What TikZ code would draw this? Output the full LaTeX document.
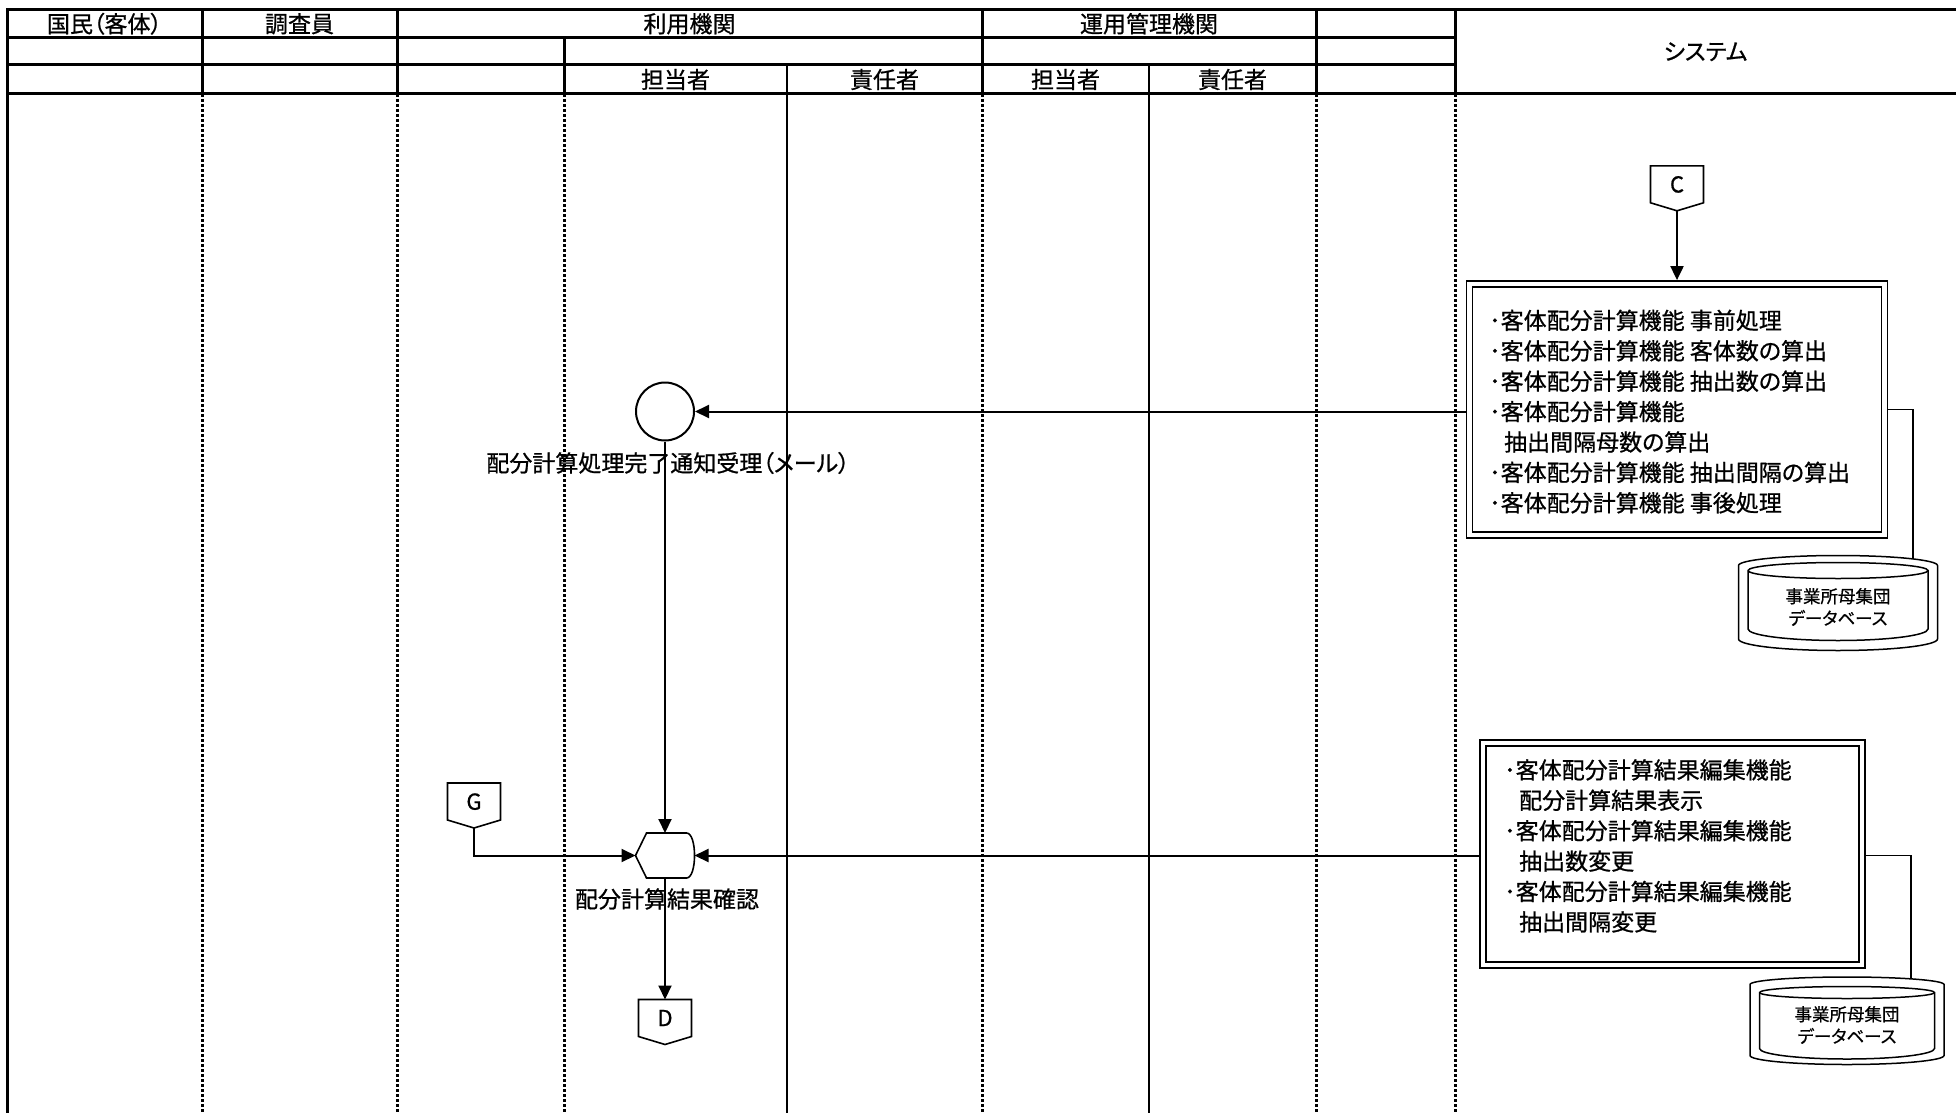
\documentclass[tikz,border=0pt]{standalone}
\usepackage{fontspec}
\setmainfont{Noto Sans CJK JP}[RawFeature=+palt,FakeBold=0.8]
\usetikzlibrary{arrows.meta,calc}
\newcommand\pentdraw[1]{\draw[connshape] (#1.north west) -- (#1.north east) -- ($(#1.south east)+(0,-8)$) -- (#1.south) -- ($(#1.south west)+(0,-8)$) -- cycle;}
\begin{document}
\begin{tikzpicture}[x=1pt,y=-1pt,
 hdr/.style={line width=3pt},
 lane/.style={line width=3pt, dash pattern=on 3pt off 2pt},
 thinlane/.style={line width=1.3pt},
 flow/.style={line width=2pt, -{Triangle[length=14pt,width=13pt]}},
 link/.style={line width=1.5pt},
 conn/.style={minimum width=53pt, minimum height=45pt, inner sep=0pt, outer sep=0pt, text depth=8pt, font=\fontsize{22}{22}\selectfont},
 connshape/.style={line width=1.6pt, line join=miter},
 proc/.style={draw, double, double distance=4.2pt, line width=1.8pt, inner sep=0pt, outer sep=3.9pt},
 boxtext/.style={anchor=north west, align=left, inner sep=0pt, font=\fontsize{23}{30.4}\selectfont},
 lbl/.style={inner sep=0pt, font=\fontsize{23}{28}\selectfont},
 htext/.style={inner sep=0pt, font=\fontsize{23}{23}\selectfont},
 dbtext/.style={align=center, inner sep=0pt, font=\fontsize{17.5}{22}\selectfont},
 dbbody/.style={inner sep=0pt, outer sep=0pt},
 dbline/.style={line width=1.5pt}
]
\useasboundingbox (0,0) rectangle (1956,1113);

% swimlanes
\foreach \x in {202,397,564,982,1316,1455} \draw[lane] (\x,94) -- (\x,1113);
\foreach \x in {787,1149} \draw[thinlane] (\x,65) -- (\x,1113);
\draw[hdr] (7.5,9.5) -- (7.5,1113);
\draw[hdr,line cap=rect] (7.5,9.5) -- (1956,9.5);
\draw[hdr] (7.5,38) -- (1455,38);
\draw[hdr] (7.5,65) -- (1455,65);
\draw[hdr,line cap=rect] (7.5,94) -- (1956,94);
\foreach \x in {202,397,982,1316,1455} \draw[hdr] (\x,9.5) -- (\x,94);
\draw[hdr] (564,38) -- (564,94);

% header texts
\node[htext] (hA) at (104.5,23.75) {国民（客体）};
\node[htext] (hB) at (299.5,23.75) {調査員};
\node[htext] (hC) at (689.5,23.75) {利用機関};
\node[htext] (hD) at (1149,23.75) {運用管理機関};
\node[htext] (hE) at (675.5,79.5) {担当者};
\node[htext] (hF) at (884.5,79.5) {責任者};
\node[htext] (hG) at (1065.5,79.5) {担当者};
\node[htext] (hH) at (1232.5,79.5) {責任者};
\node[htext] (hI) at (1705.5,51.75) {システム};

% connectors (off-page)
\node[conn] (C) at (1677,188.3) {C};
\node[conn] (G) at (474,805.5) {G};
\node[conn] (D) at (665,1022) {D};
\pentdraw{C}
\pentdraw{G}
\pentdraw{D}

% process boxes
\node[proc, minimum width=415pt, minimum height=251pt] (B1) at (1677,409.5) {};
\node[boxtext] (T1) at (1489,309.5) {･客体配分計算機能 事前処理\\
･客体配分計算機能 客体数の算出\\
･客体配分計算機能 抽出数の算出\\
･客体配分計算機能\\
\hspace*{0.65em}抽出間隔母数の算出\\
･客体配分計算機能 抽出間隔の算出\\
･客体配分計算機能 事後処理};

\node[proc, double distance=3.7pt, outer sep=3.65pt, minimum width=379pt, minimum height=222pt] (B2) at (1672.5,854) {};
\node[boxtext] (T2) at (1504,759) {･客体配分計算結果編集機能\\
\hspace*{0.65em}配分計算結果表示\\
･客体配分計算結果編集機能\\
\hspace*{0.65em}抽出数変更\\
･客体配分計算結果編集機能\\
\hspace*{0.65em}抽出間隔変更};

% event circle and display
\node[circle, draw, line width=2pt, minimum size=58pt, inner sep=0pt] (N1) at (665,411.5) {};
\node[inner sep=0pt, outer sep=0pt, minimum width=59pt, minimum height=45pt] (Disp) at (665,855.5) {};
\begin{scope}[shift={(Disp.center)}]
\draw[connshape] (-29.5,0) -- (-18.5,-22.5) -- (21.5,-22.5) .. controls (32.2,-22.5) and (32.2,22.5) .. (21.5,22.5) -- (-18.5,22.5) -- cycle;
\end{scope}

\node[lbl] (L1) at (668,463) {配分計算処理完了通知受理（メール）};
\node[lbl] (L2) at (667,899) {配分計算結果確認};

% databases
\node[dbbody, minimum width=199pt, minimum height=95pt] (DB1) at (1838,603) {};
\begin{scope}[shift={(DB1.center)}]
\draw[dbline] (-99.5,36) -- (-99.5,-37.5) arc[start angle=180,end angle=360,x radius=99.5,y radius=10] -- (99.5,36) arc[start angle=0,end angle=180,x radius=99.5,y radius=11.5];
\draw[dbline] (-90,26) -- (-90,-32.5) arc[start angle=180,end angle=360,x radius=90,y radius=8] -- (90,26) arc[start angle=0,end angle=180,x radius=90,y radius=11.5];
\draw[dbline] (-90,-32.5) arc[start angle=180,end angle=0,x radius=90,y radius=8];
\end{scope}
\node[dbtext] (DB1t) at ($(DB1.center)+(0,4)$) {事業所母集団\\データベース};
\node[dbbody, minimum width=194pt, minimum height=87pt] (DB2) at (1847,1021) {};
\begin{scope}[shift={(DB2.center)}]
\draw[dbline] (-97,34.5) -- (-97,-36.5) arc[start angle=180,end angle=360,x radius=97,y radius=7.5] -- (97,34.5) arc[start angle=0,end angle=180,x radius=97,y radius=9];
\draw[dbline] (-87.5,27.5) -- (-87.5,-28.5) arc[start angle=180,end angle=360,x radius=87.5,y radius=6] -- (87.5,27.5) arc[start angle=0,end angle=180,x radius=87.5,y radius=10.5];
\draw[dbline] (-87.5,-28.5) arc[start angle=180,end angle=0,x radius=87.5,y radius=6];
\end{scope}
\node[dbtext] (DB2t) at ($(DB2.center)+(0,4)$) {事業所母集団\\データベース};
\coordinate (db1top) at (1913,559);
\coordinate (db2top) at (1911,979);

% flows
\draw[flow] (C.south) -- (C.south |- B1.north);
\draw[flow] (B1.west |- N1.east) -- (N1.east);
\draw[flow] (N1.south) -- (Disp.north);
\draw[flow] (G.south) |- (Disp.west);
\draw[flow] (B2.west |- Disp.east) -- (Disp.east);
\draw[flow] (Disp.south) -- (D.north);
\draw[link] (B1.east) -| (db1top);
\draw[link] (B2.east |- Disp.east) -| (db2top);
\end{tikzpicture}
\end{document}
